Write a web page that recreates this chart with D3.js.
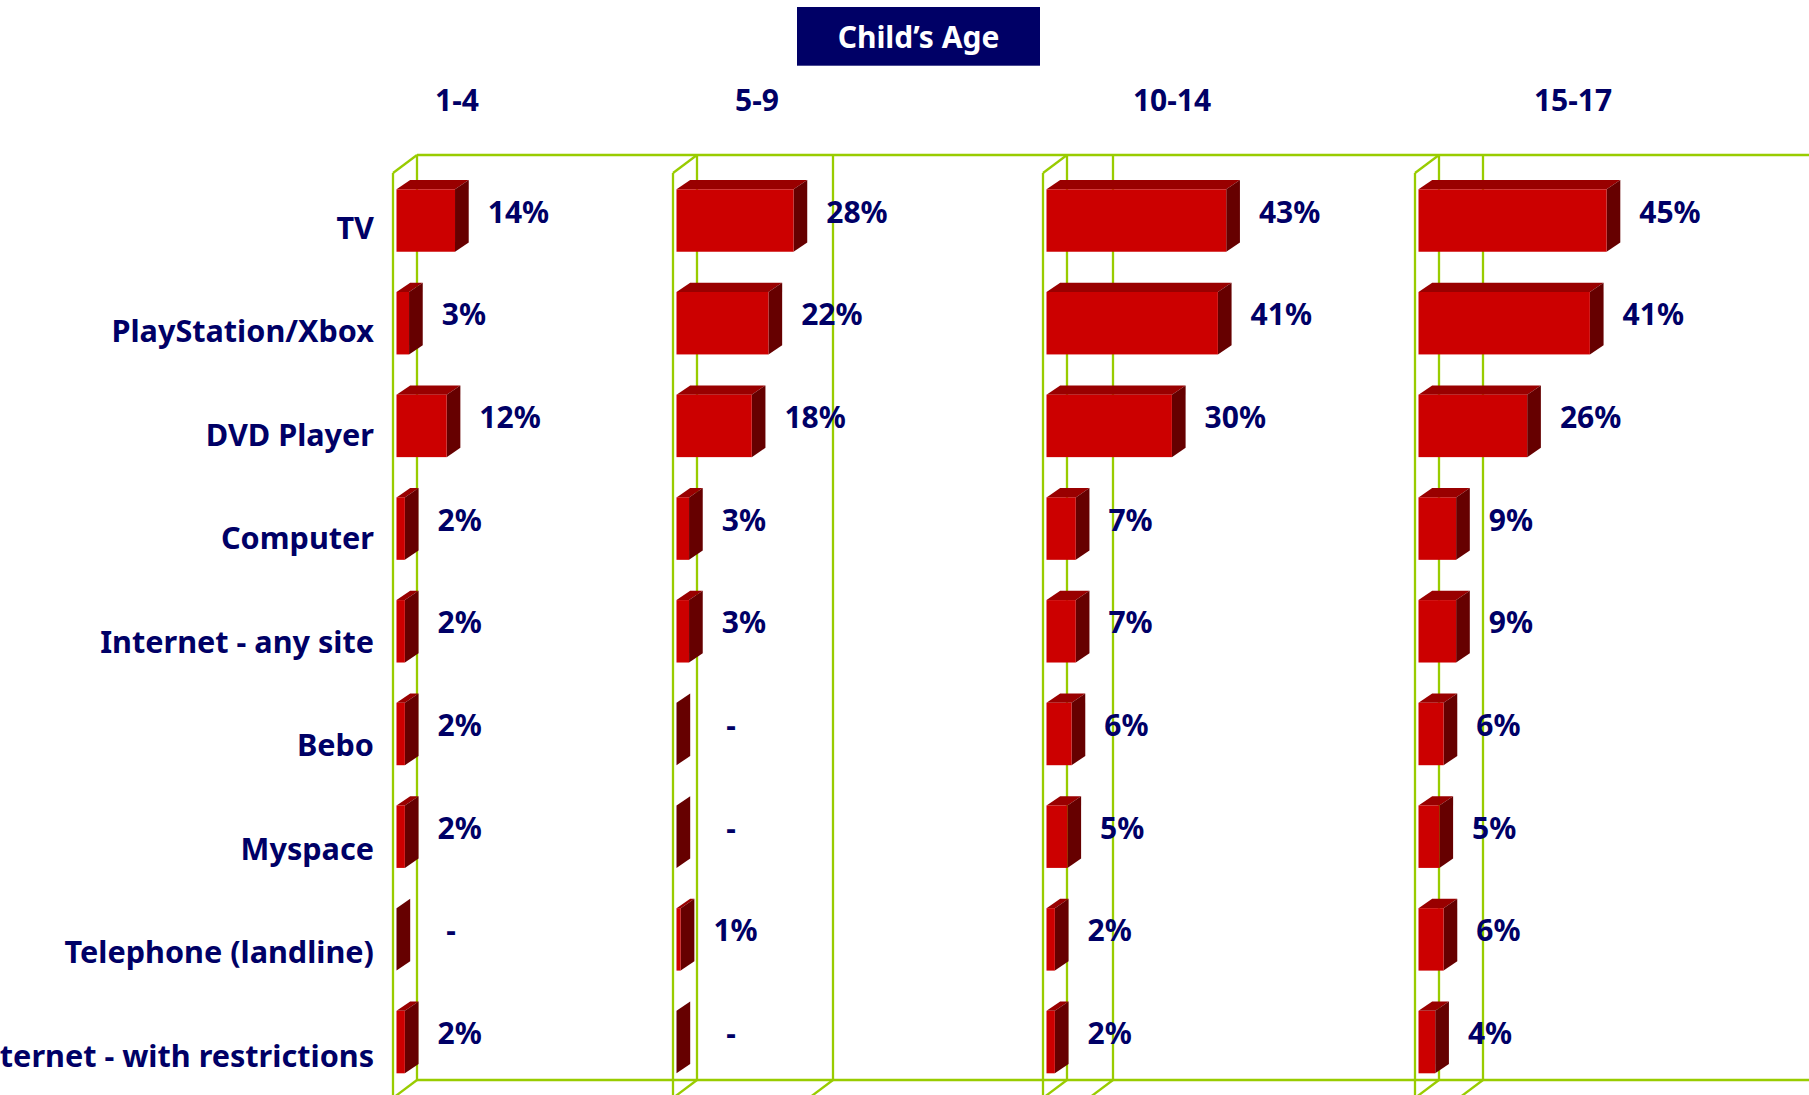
<!DOCTYPE html>
<html lang="en">
<head>
<meta charset="UTF-8" />
<title>Child's Age</title>
<script src="https://d3js.org/d3.v7.min.js"></script>
<style>
    body { margin: 0; background: #fff; }
    text { font-family: 'Noto Sans', 'Liberation Sans', sans-serif; font-weight: bold; }
</style>
</head>
<body>
<svg width="1809" height="1095"></svg>
<script>

// data
var categories = ["TV", "PlayStation/Xbox", "DVD Player", "Computer", "Internet - any site",
    "Bebo", "Myspace", "Telephone (landline)", "Internet - with restrictions"];
var ages = ["1-4", "5-9", "10-14", "15-17"];
var age1to4   = [14, 3, 12, 2, 2, 2, 2, 0, 2];
var age5to9   = [28, 22, 18, 3, 3, 0, 0, 1, 0];
var age10to14 = [43, 41, 30, 7, 7, 6, 5, 2, 2];
var age15to17 = [45, 41, 26, 9, 9, 6, 5, 6, 4];
var series = [age1to4, age5to9, age10to14, age15to17];
var title = "Child\u2019s Age";

// layout
var navy = "#000066", green = "#99cc00";
var panelX = [393, 673, 1043, 1415];      // front-left edge of each panel's floor/wall
var panelExtra = [null, 833, 1113, 1483];  // extra back line of each panel
var ageX = [457, 757, 1172, 1573];
var wallDx = 24, wallDy = 18, wallTop = 155, wallBottom = 1080;
var barDx = 13.7, barDy = 9.3;

var svg = d3.select("svg");

var x = d3.scaleLinear().domain([0, 50]).range([0, 209]);
var y = d3.scaleBand()
    .domain(categories)
    .range([189.3, 1073.3])
    .paddingInner(0.392)
    .paddingOuter(0);
// category names sit on a slightly wider spacing than the bars
var yLabel = d3.scalePoint()
    .domain(categories)
    .range([238.5, 1066.5]);

// title box
var tb = svg.append("g");
tb.append("rect")
    .attr("x", 797).attr("y", 7)
    .attr("width", 243).attr("height", 58.7)
    .attr("fill", navy);
tb.append("text")
    .attr("x", 918.5).attr("y", 37)
    .attr("dy", "0.35em")
    .attr("text-anchor", "middle")
    .attr("fill", "#fff")
    .attr("font-size", 30)
    .text(title);

// age headers
svg.append("g").selectAll("text")
    .data(ages)
    .enter().append("text")
        .attr("x", function(d, i) { return ageX[i]; })
        .attr("y", 110.5)
        .attr("text-anchor", "middle")
        .attr("fill", navy)
        .attr("font-size", 30)
        .text(function(d) { return d; });

// walls
var walls = svg.append("g")
    .attr("stroke", green)
    .attr("stroke-width", 2.3)
    .attr("fill", "none");

// long back lines along top and floor
walls.append("line")
    .attr("x1", panelX[0] + wallDx).attr("x2", 1809)
    .attr("y1", wallTop).attr("y2", wallTop);
walls.append("line")
    .attr("x1", panelX[0] + wallDx).attr("x2", 1809)
    .attr("y1", wallBottom).attr("y2", wallBottom);

panelX.forEach(function(px, i) {
    var bx = px + wallDx;
    // back-left vertical
    walls.append("line").attr("x1", bx).attr("x2", bx).attr("y1", wallTop).attr("y2", wallBottom);
    // front-left vertical
    walls.append("line").attr("x1", px).attr("x2", px).attr("y1", wallTop + wallDy).attr("y2", wallBottom + wallDy);
    // top and bottom diagonals
    walls.append("line").attr("x1", px).attr("y1", wallTop + wallDy).attr("x2", bx).attr("y2", wallTop);
    walls.append("line").attr("x1", bx).attr("y1", wallBottom).attr("x2", px).attr("y2", wallBottom + wallDy);
    if (panelExtra[i] != null) {
        var ex = panelExtra[i];
        walls.append("line").attr("x1", ex).attr("x2", ex).attr("y1", wallTop).attr("y2", wallBottom);
        walls.append("line").attr("x1", ex).attr("y1", wallBottom).attr("x2", ex - wallDx).attr("y2", wallBottom + wallDy);
    }
});

// category labels
svg.append("g").selectAll("text")
    .data(categories)
    .enter().append("text")
        .attr("x", 374)
        .attr("y", function(d) { return yLabel(d); })
        .attr("text-anchor", "end")
        .attr("fill", navy)
        .attr("font-size", 30.6)
        .text(function(d) { return d; });

// 3d bars, one group per age panel
series.forEach(function(vals, i) {
    var x0 = panelX[i] + 3.5;
    var rows = categories.map(function(c, j) { return {cat: c, value: vals[j]}; });
    var g = svg.append("g");

    var bar = g.selectAll("g.bar")
        .data(rows)
        .enter().append("g")
            .attr("class", "bar");

    // top face
    bar.append("polygon")
        .attr("fill", "#990000")
        .attr("points", function(d) {
            var t = y(d.cat), x1 = x0 + x(d.value);
            return [[x0, t], [x0 + barDx, t - barDy], [x1 + barDx, t - barDy], [x1, t]].join(" ");
        });
    // side face
    bar.append("polygon")
        .attr("fill", "#660000")
        .attr("points", function(d) {
            var t = y(d.cat), b = t + y.bandwidth(), x1 = x0 + x(d.value);
            return [[x1, t], [x1 + barDx, t - barDy], [x1 + barDx, b - barDy], [x1, b]].join(" ");
        });
    // front face
    bar.append("rect")
        .attr("fill", "#cc0000")
        .attr("x", x0)
        .attr("y", function(d) { return y(d.cat); })
        .attr("width", function(d) { return x(d.value); })
        .attr("height", y.bandwidth());

    // value labels
    g.selectAll("text")
        .data(rows)
        .enter().append("text")
            .attr("x", function(d) { return x0 + x(d.value) + barDx + (d.value ? 19 : 36); })
            .attr("y", function(d) { return y(d.cat) + y.bandwidth() / 2 + 2; })
            .attr("fill", navy)
            .attr("font-size", 30)
            .text(function(d) { return d.value ? d.value + "%" : "-"; });
});

</script>
</body>
</html>
